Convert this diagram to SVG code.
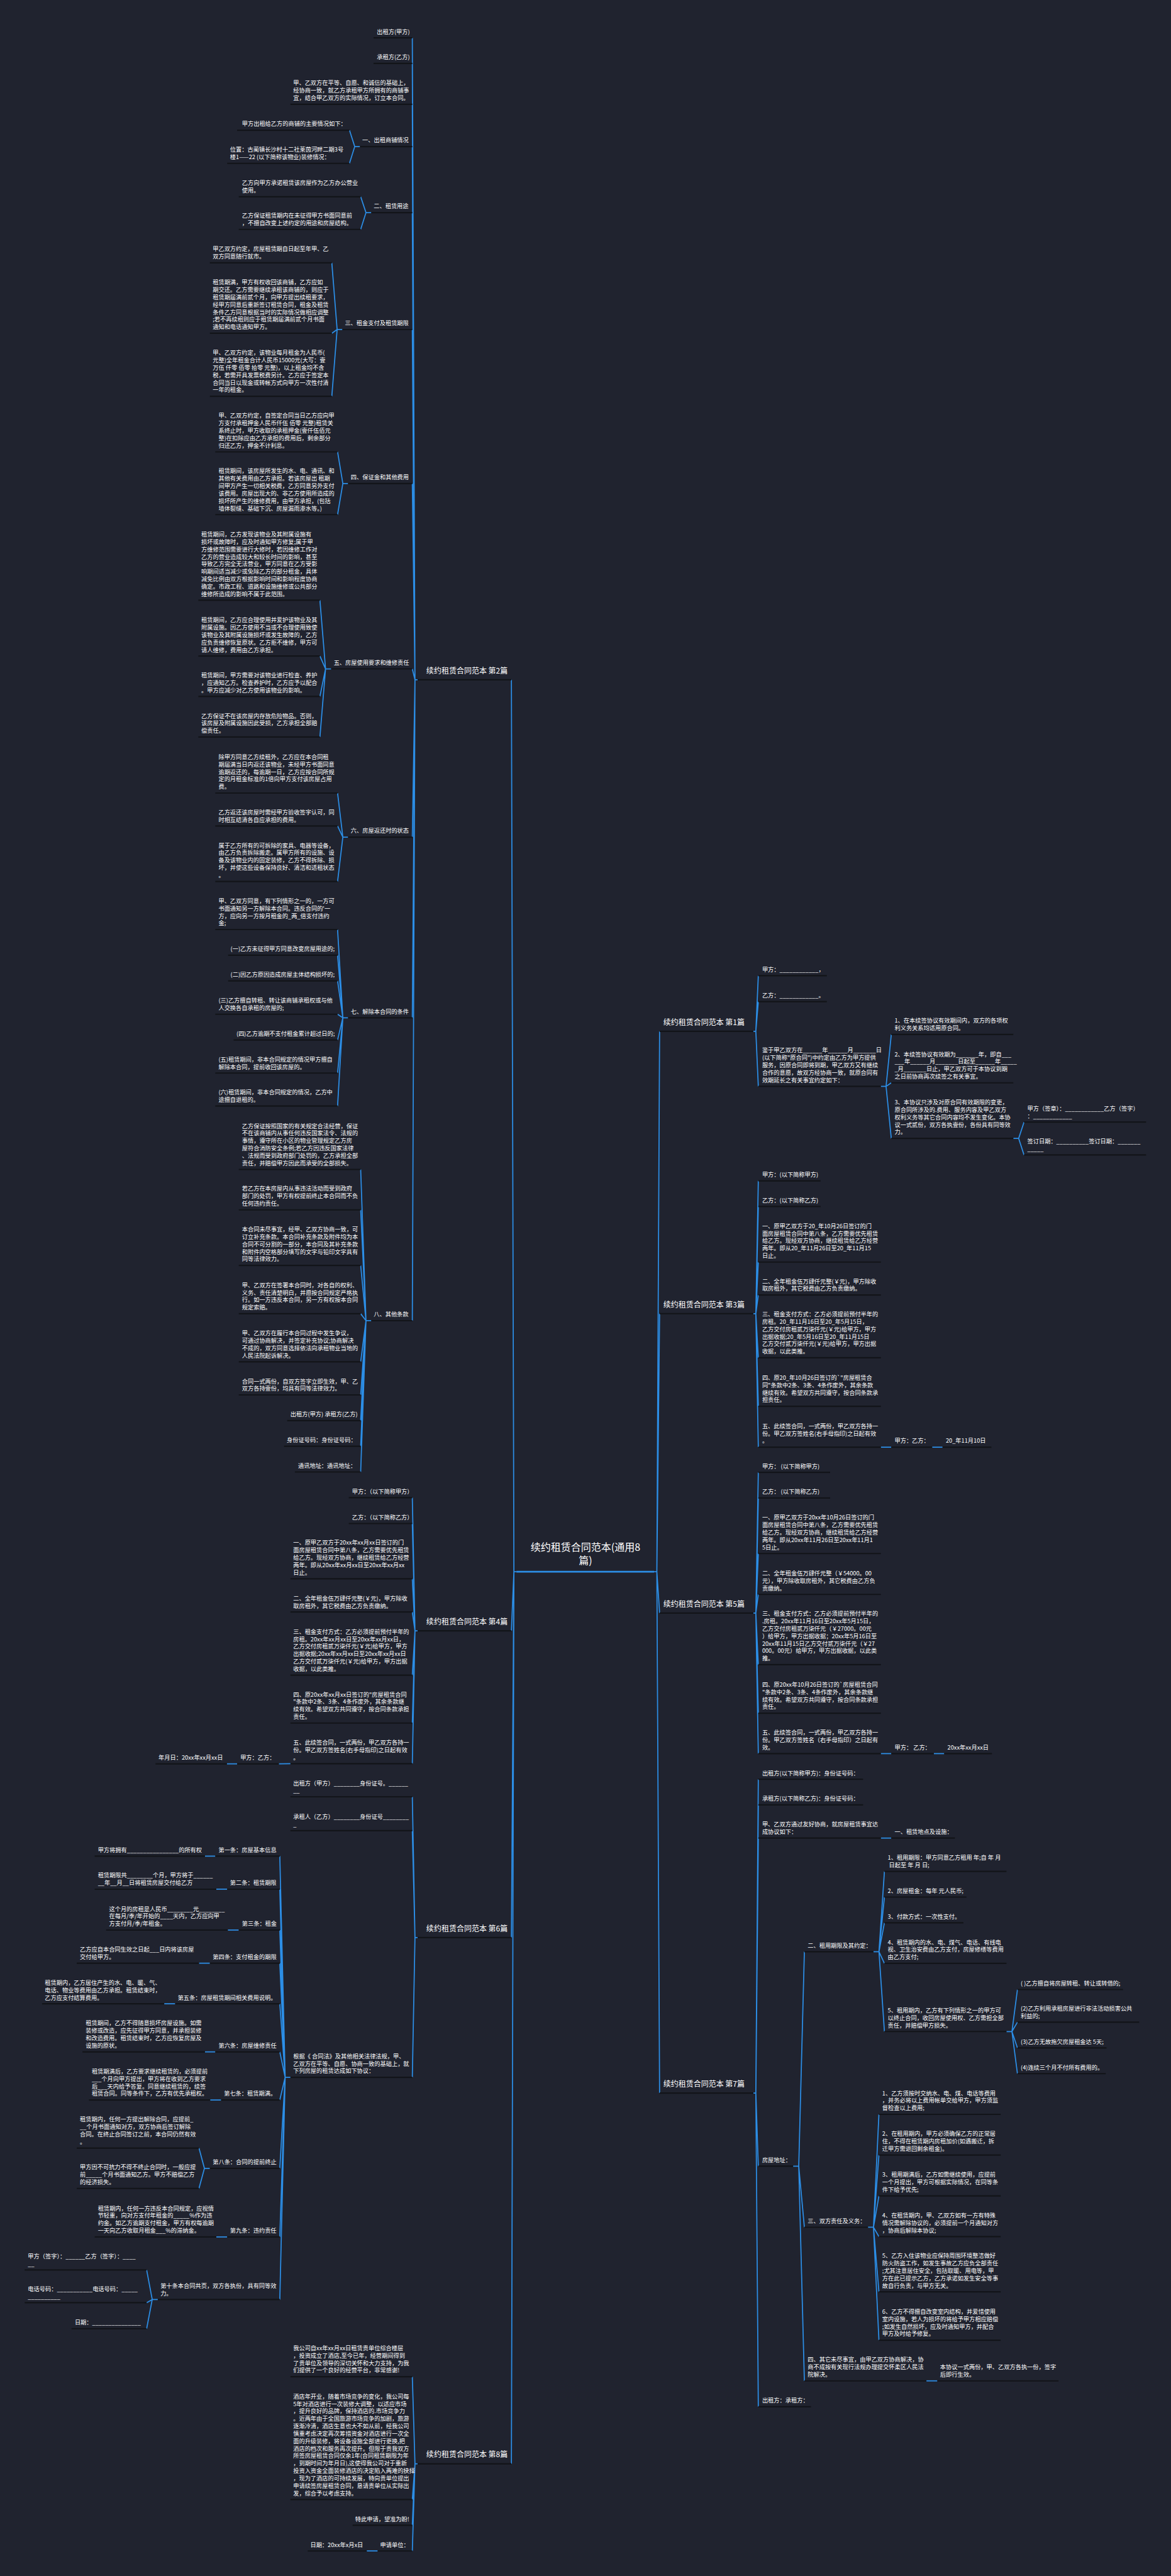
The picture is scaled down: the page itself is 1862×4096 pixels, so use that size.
<svg xmlns="http://www.w3.org/2000/svg" width="1862" height="4096" viewBox="0 0 1862 4096">
<style>
text{font-family:"Noto Sans CJK SC","Noto Sans",sans-serif;fill:#ffffff}
.t{font-size:12.7px}
.l1{font-size:16.5px}
.rt{font-size:22px}
.u{stroke:#121419;stroke-width:3}
.c{fill:none;stroke:#2c8ee6;stroke-width:2.4}
</style>
<rect width="1862" height="4096" fill="#20232f"/>
<g transform="scale(0.72734)">
<g id="connectors" class="c">
<path d="M1129 3436H1123.5L1118 1486M1129 3436H1123.5L1118 3565.3M1129 3436H1123.5L1118 4235.7M1129 3436H1123.5L1118 5386.3"/>
<path d="M1430 3436H1436L1442 2254.5M1430 3436H1436L1442 2871.8M1430 3436H1436L1442 3526.4M1430 3436H1436L1442 4575.7"/>
<path d="M913 1486H907.2L901.4 82.7M913 1486H907.2L901.4 138.8M913 1486H907.2L901.4 228M913 1486H907.2L901.4 320.4M913 1486H907.2L901.4 464.8M913 1486H907.2L901.4 720.4M913 1486H907.2L901.4 1057.1M913 1486H907.2L901.4 1462.2M913 1486H907.2L901.4 1830.1M913 1486H907.2L901.4 2225M913 1486H907.2L901.4 2887.2"/>
<path d="M787 320.4H775.5L764 284.7M787 320.4H775.5L764 357.1"/>
<path d="M811.7 464.8H800.1L788.5 430.1M811.7 464.8H800.1L788.5 501.5"/>
<path d="M748.5 720.4H737L725.4 574.5M748.5 720.4H737L725.4 728.6M748.5 720.4H737L725.4 866.3"/>
<path d="M761 1057.1H749.5L738 987.8M761 1057.1H749.5L738 1125"/>
<path d="M724 1462.2H711.7L699.4 1312.2M724 1462.2H711.7L699.4 1434.2M724 1462.2H711.7L699.4 1522.4M724 1462.2H711.7L699.4 1611.2"/>
<path d="M761 1830.1H749.5L738 1733.7M761 1830.1H749.5L738 1805.6M761 1830.1H749.5L738 1927"/>
<path d="M761 2225H749.5L738 2032.1M761 2225H749.5L738 2088.3M761 2225H749.5L738 2144.4M761 2225H749.5L738 2217.3M761 2225H749.5L738 2273.5M761 2225H749.5L738 2345.9M761 2225H749.5L738 2417.9"/>
<path d="M811.7 2887.2H800.1L788.5 2556.6M811.7 2887.2H800.1L788.5 2644.9M811.7 2887.2H800.1L788.5 2766.3M811.7 2887.2H800.1L788.5 2871.9M811.7 2887.2H800.1L788.5 2977M811.7 2887.2H800.1L788.5 3049.5M811.7 2887.2H800.1L788.5 3105.6M811.7 2887.2H800.1L788.5 3161.7M811.7 2887.2H800.1L788.5 3217.9"/>
<path d="M913 3565.3H907.2L901.4 3274M913 3565.3H907.2L901.4 3330.6M913 3565.3H907.2L901.4 3451.5M913 3565.3H907.2L901.4 3524M913 3565.3H907.2L901.4 3662.2M913 3565.3H907.2L901.4 3766.8M913 3565.3H907.2L901.4 3855.6"/>
<path d="M635 3855.6L609.6 3856M518.4 3856L496 3856"/>
<path d="M913 4235.7H907.2L901.4 3928M913 4235.7H907.2L901.4 4002M913 4235.7H907.2L901.4 4541.3"/>
<path d="M635 4541.3H623.4L611.7 4057.7M635 4541.3H623.4L611.7 4130.1M635 4541.3H623.4L611.7 4219.4M635 4541.3H623.4L611.7 4291.8M635 4541.3H623.4L611.7 4380.6M635 4541.3H623.4L611.7 4485.7M635 4541.3H623.4L611.7 4590.8M635 4541.3H623.4L611.7 4740.3M635 4541.3H623.4L611.7 4890.2M635 4541.3H623.4L611.7 5027.1"/>
<path d="M470.7 4057.7L448 4057.7M496.7 4130.1L472.8 4130.1M522 4219.4L498 4219.4M458.8 4291.8L435 4291.8M383 4380.6L359 4380.6M470.7 4485.7L448 4485.7M483.4 4590.8L459.5 4590.8M496.7 4890.2L472.8 4890.2"/>
<path d="M458.8 4740.3H446.9L435 4696M458.8 4740.3H446.9L435 4784.2"/>
<path d="M345 5027.1H332.8L320.6 4962.4M345 5027.1H332.8L320.6 5034M345 5027.1H332.8L320.6 5090.8"/>
<path d="M913 5386.3H907.2L901.4 5195.8M913 5386.3H907.2L901.4 5464.3M913 5386.3H907.2L901.4 5520.6M913 5386.3H907.2L901.4 5576.8M825.7 5576.8L801.8 5576.8"/>
<path d="M1647 2254.5H1652.4L1657.8 2133M1647 2254.5H1652.4L1657.8 2189.7M1647 2254.5H1652.4L1657.8 2374.9"/>
<path d="M1925.7 2374.9H1937.1L1948.5 2261.6M1925.7 2374.9H1937.1L1948.5 2367.2M1925.7 2374.9H1937.1L1948.5 2488.7"/>
<path d="M2215.3 2488.7H2227L2238.7 2453M2215.3 2488.7H2227L2238.7 2524.9"/>
<path d="M1647 2871.8H1652.4L1657.8 2581.5M1647 2871.8H1652.4L1657.8 2637.6M1647 2871.8H1652.4L1657.8 2759M1647 2871.8H1652.4L1657.8 2831M1647 2871.8H1652.4L1657.8 2968.3M1647 2871.8H1652.4L1657.8 3074.4M1647 2871.8H1652.4L1657.8 3163.7"/>
<path d="M1925.7 3163.7L1948.5 3163.7M2037.9 3163.7L2060.6 3163.7"/>
<path d="M1647 3526.4H1652.4L1657.8 3218.8M1647 3526.4H1652.4L1657.8 3274.9M1647 3526.4H1652.4L1657.8 3396.3M1647 3526.4H1652.4L1657.8 3485.6M1647 3526.4H1652.4L1657.8 3639.2M1647 3526.4H1652.4L1657.8 3745.3M1647 3526.4H1652.4L1657.8 3833.6"/>
<path d="M1925.7 3833.6L1948.5 3833.6M2041.5 3833.6L2064.2 3833.6"/>
<path d="M1647 4575.7H1652.4L1657.8 3889.7M1647 4575.7H1652.4L1657.8 3945.8M1647 4575.7H1652.4L1657.8 4018.3M1647 4575.7H1652.4L1657.8 4735.7M1647 4575.7H1652.4L1657.8 5261.4"/>
<path d="M1925.7 4018.3L1948.5 4018.3"/>
<path d="M1733.9 4735.7H1746.2L1758.5 4266.7M1733.9 4735.7H1746.2L1758.5 4869.1M1733.9 4735.7H1746.2L1758.5 5204.9"/>
<path d="M1909.6 4266.7H1921.6L1933.5 4091.2M1909.6 4266.7H1921.6L1933.5 4147.3M1909.6 4266.7H1921.6L1933.5 4203.5M1909.6 4266.7H1921.6L1933.5 4292.2M1909.6 4266.7H1921.6L1933.5 4441.2"/>
<path d="M2200.3 4441.2H2212.3L2224.3 4349.4M2200.3 4441.2H2212.3L2224.3 4420.8M2200.3 4441.2H2212.3L2224.3 4477M2200.3 4441.2H2212.3L2224.3 4533.3"/>
<path d="M1897.6 4869.1H1909.6L1921.5 4622.3M1897.6 4869.1H1909.6L1921.5 4711.2M1897.6 4869.1H1909.6L1921.5 4800.6M1897.6 4869.1H1909.6L1921.5 4889.5M1897.6 4869.1H1909.6L1921.5 5010.3M1897.6 4869.1H1909.6L1921.5 5116"/>
<path d="M2025.3 5204.9L2049.2 5204.9"/>
</g>

<g id="root"><line x1="1129" y1="3436" x2="1430" y2="3436" stroke="#2c8ee6" stroke-width="3.5"/><text class="rt" x="1280" y="3390" text-anchor="middle">续约租赁合同范本(通用8<tspan x="1280" dy="30">篇)</tspan></text></g>

<g id="p2"><line class="u" x1="913" y1="1486" x2="1118" y2="1486"/><text class="l1" x="932" y="1472">续约租赁合同范本 第2篇</text></g>
<g id="a1"><line class="u" x1="816.6" y1="82.7" x2="901.4" y2="82.7"/><text class="t" x="824" y="73.6">出租方(甲方)</text></g>
<g id="a2"><line class="u" x1="816.6" y1="138.8" x2="901.4" y2="138.8"/><text class="t" x="824" y="129.7">承租方(乙方)</text></g>
<g id="a3"><line class="u" x1="635" y1="228" x2="901.4" y2="228"/><text class="t" x="641" y="186.3">甲、乙双方在平等、自愿、和诚信的基础上，<tspan x="641" dy="16.3">经协商一致，就乙方承租甲方所拥有的商铺事</tspan><tspan x="641" dy="16.3">宜，结合甲乙双方的实际情况，订立本合同。</tspan></text></g>
<g id="a4"><line class="u" x1="787" y1="320.4" x2="901.4" y2="320.4"/><text class="t" x="792" y="311.3">一、出租商铺情况</text></g>
<g id="a4a"><line class="u" x1="518.4" y1="284.7" x2="764" y2="284.7"/><text class="t" x="529" y="275.6">甲方出租给乙方的商铺的主要情况如下：</text></g>
<g id="a4b"><line class="u" x1="496.7" y1="357.1" x2="764" y2="357.1"/><text class="t" x="503" y="331.7">位置：古蔺镇长沙村十二社莱茵河畔二期3号<tspan x="503" dy="16.3">楼1——22 (以下简称该物业)装修情况：</tspan></text></g>
<g id="a5"><line class="u" x1="811.7" y1="464.8" x2="901.4" y2="464.8"/><text class="t" x="817" y="455.7">二、租赁用途</text></g>
<g id="a5a"><line class="u" x1="522" y1="430.1" x2="788.5" y2="430.1"/><text class="t" x="529" y="404.7">乙方向甲方承诺租赁该房屋作为乙方办公营业<tspan x="529" dy="16.3">使用。</tspan></text></g>
<g id="a5b"><line class="u" x1="522" y1="501.5" x2="788.5" y2="501.5"/><text class="t" x="529" y="476.1"> 乙方保证租赁期内在未征得甲方书面同意前<tspan x="529" dy="16.3">，不擅自改变上述约定的用途和房屋结构。</tspan></text></g>
<g id="a6"><line class="u" x1="748.5" y1="720.4" x2="901.4" y2="720.4"/><text class="t" x="754" y="711.3">三、租金支付及租赁期限</text></g>
<g id="a6a"><line class="u" x1="458.8" y1="574.5" x2="725.4" y2="574.5"/><text class="t" x="465" y="549.1">甲乙双方约定，房屋租赁期自日起至年甲、乙<tspan x="465" dy="16.3">双方同意随行就市。</tspan></text></g>
<g id="a6b"><line class="u" x1="458.8" y1="728.6" x2="725.4" y2="728.6"/><text class="t" x="465" y="621.7"> 租赁期满，甲方有权收回该商铺，乙方应如<tspan x="465" dy="16.3">期交还。乙方需要继续承租该商铺的，则应于</tspan><tspan x="465" dy="16.3">租赁期届满前贰个月，向甲方提出续租要求，</tspan><tspan x="465" dy="16.3">经甲方同意后重新签订租赁合同，租金及租赁</tspan><tspan x="465" dy="16.3">条件乙方同意根据当时的实际情况做相应调整</tspan><tspan x="465" dy="16.3">;若不再续租则应于租赁期届满前贰个月书面</tspan><tspan x="465" dy="16.3">通知和电话通知甲方。</tspan></text></g>
<g id="a6c"><line class="u" x1="458.8" y1="866.3" x2="725.4" y2="866.3"/><text class="t" x="465" y="775.7"> 甲、乙双方约定，该物业每月租金为人民币(<tspan x="465" dy="16.3">元整)全年租金合计人民币15000元(大写：壹</tspan><tspan x="465" dy="16.3">万伍 仟零 佰零 拾零 元整)，以上租金均不含</tspan><tspan x="465" dy="16.3">税，若需开具发票税费另计。乙方应于签定本</tspan><tspan x="465" dy="16.3">合同当日以现金或转帐方式向甲方一次性付清</tspan><tspan x="465" dy="16.3">一年的租金。</tspan></text></g>
<g id="a7"><line class="u" x1="761" y1="1057.1" x2="901.4" y2="1057.1"/><text class="t" x="767" y="1048">四、保证金和其他费用</text></g>
<g id="a7a"><line class="u" x1="470.7" y1="987.8" x2="738" y2="987.8"/><text class="t" x="477.7" y="913.5">甲、乙双方约定，自签定合同当日乙方应向甲<tspan x="477.7" dy="16.3">方支付承租押金人民币仟伍 佰零 元整)租赁关</tspan><tspan x="477.7" dy="16.3">系终止时，甲方收取的承租押金(壹仟伍佰元</tspan><tspan x="477.7" dy="16.3">整)在扣除应由乙方承担的费用后，剩余部分</tspan><tspan x="477.7" dy="16.3">归还乙方，押金不计利息。</tspan></text></g>
<g id="a7b"><line class="u" x1="470.7" y1="1125" x2="738" y2="1125"/><text class="t" x="477.7" y="1034.4">租赁期间，该房屋所发生的水、电、通讯、和<tspan x="477.7" dy="16.3">其他有关费用由乙方承担。若该房屋出 租期</tspan><tspan x="477.7" dy="16.3">间甲方产生一切相关税费，乙方同意另外支付</tspan><tspan x="477.7" dy="16.3">该费用。房屋出现大的、非乙方使用所造成的</tspan><tspan x="477.7" dy="16.3">损坏所产生的维修费用，由甲方承担，(包括</tspan><tspan x="477.7" dy="16.3">墙体裂缝、基础下沉、房屋漏雨渗水等。)</tspan></text></g>
<g id="a8"><line class="u" x1="724" y1="1462.2" x2="901.4" y2="1462.2"/><text class="t" x="729.6" y="1453.1">五、房屋使用要求和维修责任</text></g>
<g id="a8a"><line class="u" x1="433.6" y1="1312.2" x2="699.4" y2="1312.2"/><text class="t" x="440" y="1172.7"> 租赁期间，乙方发现该物业及其附属设施有<tspan x="440" dy="16.3">损坏或故障时，应及时通知甲方修复;属于甲</tspan><tspan x="440" dy="16.3">方维修范围需要进行大修时，若因维修工作对</tspan><tspan x="440" dy="16.3">乙方的营业造成较大和较长时间的影响，甚至</tspan><tspan x="440" dy="16.3">导致乙方完全无法营业，甲方同意在乙方受影</tspan><tspan x="440" dy="16.3">响期间适当减少或免除乙方的部分租金，具体</tspan><tspan x="440" dy="16.3">减免比例由双方根据影响时间和影响程度协商</tspan><tspan x="440" dy="16.3">确定。市政工程、道路和设施维修或公共部分</tspan><tspan x="440" dy="16.3">维修所造成的影响不属于此范围。</tspan></text></g>
<g id="a8b"><line class="u" x1="433.6" y1="1434.2" x2="699.4" y2="1434.2"/><text class="t" x="440" y="1359.9">租赁期间，乙方应合理使用并爱护该物业及其<tspan x="440" dy="16.3">附属设施。因乙方使用不当或不合理使用致使</tspan><tspan x="440" dy="16.3">该物业及其附属设施损坏或发生故障的，乙方</tspan><tspan x="440" dy="16.3">应负责维修恢复原状。乙方拒不维修，甲方可</tspan><tspan x="440" dy="16.3">请人维修，费用由乙方承担。</tspan></text></g>
<g id="a8c"><line class="u" x1="433.6" y1="1522.4" x2="699.4" y2="1522.4"/><text class="t" x="440" y="1480.7">租赁期间，甲方需要对该物业进行检查、养护<tspan x="440" dy="16.3">，应通知乙方。检查养护时，乙方应予以配合</tspan><tspan x="440" dy="16.3">。甲方应减少对乙方使用该物业的影响。</tspan></text></g>
<g id="a8d"><line class="u" x1="433.6" y1="1611.2" x2="699.4" y2="1611.2"/><text class="t" x="440" y="1569.5">乙方保证不在该房屋内存放危险物品。否则，<tspan x="440" dy="16.3">该房屋及附属设施因此受损，乙方承担全部赔</tspan><tspan x="440" dy="16.3">偿责任。</tspan></text></g>
<g id="a9"><line class="u" x1="761" y1="1830.1" x2="901.4" y2="1830.1"/><text class="t" x="767" y="1821">六、房屋返还时的状态</text></g>
<g id="a9a"><line class="u" x1="470.7" y1="1733.7" x2="738" y2="1733.7"/><text class="t" x="477.7" y="1659.4"> 除甲方同意乙方续租外，乙方应在本合同租<tspan x="477.7" dy="16.3">期届满当日内返还该物业，未经甲方书面同意</tspan><tspan x="477.7" dy="16.3">逾期返还的，每逾期一日，乙方应按合同所规</tspan><tspan x="477.7" dy="16.3">定的月租金标准的1倍向甲方支付该房屋占用</tspan><tspan x="477.7" dy="16.3">费。</tspan></text></g>
<g id="a9b"><line class="u" x1="470.7" y1="1805.6" x2="738" y2="1805.6"/><text class="t" x="477.7" y="1780.2">乙方返还该房屋时需经甲方验收签字认可，同<tspan x="477.7" dy="16.3">时相互结清各自应承担的费用。</tspan></text></g>
<g id="a9c"><line class="u" x1="470.7" y1="1927" x2="738" y2="1927"/><text class="t" x="477.7" y="1852.7">属于乙方所有的可拆除的家具、电器等设备，<tspan x="477.7" dy="16.3">由乙方负责拆除搬走。属甲方所有的设施、设</tspan><tspan x="477.7" dy="16.3">备及该物业内的固定装修，乙方不得拆除、损</tspan><tspan x="477.7" dy="16.3">坏，并使这些设备保持良好、清洁和适租状态</tspan><tspan x="477.7" dy="16.3">。</tspan></text></g>
<g id="a10"><line class="u" x1="761" y1="2225" x2="901.4" y2="2225"/><text class="t" x="767" y="2215.9">七、解除本合同的条件</text></g>
<g id="a10a"><line class="u" x1="470.7" y1="2032.1" x2="738" y2="2032.1"/><text class="t" x="477.7" y="1974.1">甲、乙双方同意，有下列情形之一的，一方可<tspan x="477.7" dy="16.3">书面通知另一方解除本合同。违反合同的'一</tspan><tspan x="477.7" dy="16.3">方，应向另一方按月租金的_两_倍支付违约</tspan><tspan x="477.7" dy="16.3">金;</tspan></text></g>
<g id="a10b"><line class="u" x1="498.8" y1="2088.3" x2="738" y2="2088.3"/><text class="t" x="504" y="2079.2">(一)乙方未征得甲方同意改变房屋用途的;</text></g>
<g id="a10c"><line class="u" x1="498.8" y1="2144.4" x2="738" y2="2144.4"/><text class="t" x="504" y="2135.3">(二)因乙方原因造成房屋主体结构损坏的;</text></g>
<g id="a10d"><line class="u" x1="470.7" y1="2217.3" x2="738" y2="2217.3"/><text class="t" x="477.7" y="2191.9">(三)乙方擅自转租、转让该商铺承租权或与他<tspan x="477.7" dy="16.3">人交换各自承租的房屋的;</tspan></text></g>
<g id="a10e"><line class="u" x1="510.7" y1="2273.5" x2="738" y2="2273.5"/><text class="t" x="517" y="2264.4">(四)乙方逾期不支付租金累计超过日的;</text></g>
<g id="a10f"><line class="u" x1="470.7" y1="2345.9" x2="738" y2="2345.9"/><text class="t" x="477.7" y="2320.5">(五)租赁期间，非本合同规定的情况甲方擅自<tspan x="477.7" dy="16.3">解除本合同，提前收回该房屋的。</tspan></text></g>
<g id="a10g"><line class="u" x1="470.7" y1="2417.9" x2="738" y2="2417.9"/><text class="t" x="477.7" y="2392.5">(六)租赁期间，非本合同规定的情况，乙方中<tspan x="477.7" dy="16.3">途擅自退租的。</tspan></text></g>
<g id="a11"><line class="u" x1="811.7" y1="2887.2" x2="901.4" y2="2887.2"/><text class="t" x="817" y="2878.1">八、其他条款</text></g>
<g id="a11a"><line class="u" x1="522" y1="2556.6" x2="788.5" y2="2556.6"/><text class="t" x="529" y="2466">乙方保证按照国家的有关规定合法经营，保证<tspan x="529" dy="16.3">不在该商铺内从事任何违反国家法令、法规的</tspan><tspan x="529" dy="16.3">事情，遵守所在小区的物业管理规定乙方房</tspan><tspan x="529" dy="16.3">屋符合消防安全条例;若乙方因违反国家法律</tspan><tspan x="529" dy="16.3">、法规而受到政府部门处罚的，乙方承担全部</tspan><tspan x="529" dy="16.3">责任，并赔偿甲方因此而承受的全部损失。</tspan></text></g>
<g id="a11b"><line class="u" x1="522" y1="2644.9" x2="788.5" y2="2644.9"/><text class="t" x="529" y="2603.2"> 若乙方在本房屋内从事违法活动而受到政府<tspan x="529" dy="16.3">部门的处罚，甲方有权提前终止本合同而不负</tspan><tspan x="529" dy="16.3">任何违约责任。</tspan></text></g>
<g id="a11c"><line class="u" x1="522" y1="2766.3" x2="788.5" y2="2766.3"/><text class="t" x="529" y="2692">本合同未尽事宜，经甲、乙双方协商一致，可<tspan x="529" dy="16.3">订立补充条款。本合同补充条款及附件均为本</tspan><tspan x="529" dy="16.3">合同不可分割的一部分，本合同及其补充条款</tspan><tspan x="529" dy="16.3">和附件内空格部分填写的文字与铅印文字具有</tspan><tspan x="529" dy="16.3">同等法律效力。</tspan></text></g>
<g id="a11d"><line class="u" x1="522" y1="2871.9" x2="788.5" y2="2871.9"/><text class="t" x="529" y="2813.9">甲、乙双方在签署本合同时，对各自的权利、<tspan x="529" dy="16.3">义务、责任清楚明白，并愿按合同规定严格执</tspan><tspan x="529" dy="16.3">行。如一方违反本合同，另一方有权按本合同</tspan><tspan x="529" dy="16.3">规定索赔。</tspan></text></g>
<g id="a11e"><line class="u" x1="522" y1="2977" x2="788.5" y2="2977"/><text class="t" x="529" y="2919"> 甲、乙双方在履行本合同过程中发生争议，<tspan x="529" dy="16.3">可通过协商解决，并签定补充协议;协商解决</tspan><tspan x="529" dy="16.3">不成的，双方同意选择依法向承租物业当地的</tspan><tspan x="529" dy="16.3">人民法院起诉解决。</tspan></text></g>
<g id="a11f"><line class="u" x1="522" y1="3049.5" x2="788.5" y2="3049.5"/><text class="t" x="529" y="3024.1">合同一式两份，自双方签字立即生效，甲、乙<tspan x="529" dy="16.3">双方各持壹份，均具有同等法律效力。</tspan></text></g>
<g id="a11g"><line class="u" x1="627.9" y1="3105.6" x2="788.5" y2="3105.6"/><text class="t" x="635" y="3096.5">出租方(甲方) 承租方(乙方)</text></g>
<g id="a11h"><line class="u" x1="621" y1="3161.7" x2="788.5" y2="3161.7"/><text class="t" x="627" y="3152.6">身份证号码：身份证号码：</text></g>
<g id="a11i"><line class="u" x1="644.7" y1="3217.9" x2="788.5" y2="3217.9"/><text class="t" x="651.7" y="3208.8">通讯地址：通讯地址：</text></g>

<g id="p4"><line class="u" x1="913" y1="3565.3" x2="1118" y2="3565.3"/><text class="l1" x="932" y="3551.3">续约租赁合同范本 第4篇</text></g>
<g id="b1"><line class="u" x1="762.5" y1="3274" x2="901.4" y2="3274"/><text class="t" x="769.6" y="3264.9">甲方：（以下简称甲方）</text></g>
<g id="b2"><line class="u" x1="762.5" y1="3330.6" x2="901.4" y2="3330.6"/><text class="t" x="769.6" y="3321.5">乙方：（以下简称乙方）</text></g>
<g id="b3"><line class="u" x1="635" y1="3451.5" x2="901.4" y2="3451.5"/><text class="t" x="641" y="3377.2">一、原甲乙双方于20xx年xx月xx日签订的门<tspan x="641" dy="16.3">面房屋租赁合同中第八条，乙方需要优先租赁</tspan><tspan x="641" dy="16.3">给乙方。现经双方协商，继续租赁给乙方经营</tspan><tspan x="641" dy="16.3">两年。即从20xx年xx月xx日至20xx年xx月xx</tspan><tspan x="641" dy="16.3">日止。</tspan></text></g>
<g id="b4"><line class="u" x1="635" y1="3524" x2="901.4" y2="3524"/><text class="t" x="641" y="3498.6">二、全年租金伍万肆仟元整(￥元)，甲方除收<tspan x="641" dy="16.3">取房租外，其它税费由乙方负责缴纳。</tspan></text></g>
<g id="b5"><line class="u" x1="635" y1="3662.2" x2="901.4" y2="3662.2"/><text class="t" x="641" y="3571.6">三、租金支付方式：乙方必须提前预付半年的<tspan x="641" dy="16.3">房租。20xx年xx月xx日至20xx年xx月xx日，</tspan><tspan x="641" dy="16.3">乙方交付房租贰万柒仟元(￥元)给甲方，甲方</tspan><tspan x="641" dy="16.3">出据收据;20xx年xx月xx日至20xx年xx月xx日</tspan><tspan x="641" dy="16.3">乙方交付贰万柒仟元(￥元)给甲方，甲方出据</tspan><tspan x="641" dy="16.3">收据，以此类推。</tspan></text></g>
<g id="b6"><line class="u" x1="635" y1="3766.8" x2="901.4" y2="3766.8"/><text class="t" x="641" y="3708.8">四、原20xx年xx月xx日签订的"房屋租赁合同<tspan x="641" dy="16.3">"条款中2条、3条、4条作废外，其余条款继</tspan><tspan x="641" dy="16.3">续有效。希望双方共同遵守，按合同条款承担</tspan><tspan x="641" dy="16.3">责任。</tspan></text></g>
<g id="b7"><line class="u" x1="635" y1="3855.6" x2="901.4" y2="3855.6"/><text class="t" x="641" y="3813.9">五、此续签合同，一式两份，甲乙双方各持一<tspan x="641" dy="16.3">份。甲乙双方签姓名(右手母指印)之日起有效</tspan><tspan x="641" dy="16.3">。</tspan></text></g>
<g id="b7a"><line class="u" x1="518.4" y1="3856" x2="609.6" y2="3856"/><text class="t" x="525.4" y="3846.9">甲方：乙方：</text></g>
<g id="b7a1"><line class="u" x1="340" y1="3856" x2="496" y2="3856"/><text class="t" x="346.6" y="3846.9">年月日：20xx年xx月xx日</text></g>

<g id="p6"><line class="u" x1="913" y1="4235.7" x2="1118" y2="4235.7"/><text class="l1" x="932" y="4221.7">续约租赁合同范本 第6篇</text></g>
<g id="c1"><line class="u" x1="635" y1="3928" x2="901.4" y2="3928"/><text class="t" x="641" y="3902.6">出租方（甲方）________身份证号。______<tspan x="641" dy="16.3">__</tspan></text></g>
<g id="c2"><line class="u" x1="635" y1="4002" x2="901.4" y2="4002"/><text class="t" x="641" y="3976.6">承租人（乙方）________身份证号________<tspan x="641" dy="16.3">_</tspan></text></g>
<g id="c3"><line class="u" x1="635" y1="4541.3" x2="901.4" y2="4541.3"/><text class="t" x="641" y="4499.6">根据《 合同法》及其他相关法律法规，甲、<tspan x="641" dy="16.3">乙双方在平等、自愿、协商一致的基础上，就</tspan><tspan x="641" dy="16.3">下列房屋的租赁达成如下协议：</tspan></text></g>
<g id="c3a"><line class="u" x1="470.7" y1="4057.7" x2="611.7" y2="4057.7"/><text class="t" x="477.7" y="4048.6">第一条：房屋基本信息</text></g>
<g id="c3a1"><line class="u" x1="207" y1="4057.7" x2="448" y2="4057.7"/><text class="t" x="214" y="4048.6">甲方将拥有________________的所有权</text></g>
<g id="c3b"><line class="u" x1="496.7" y1="4130.1" x2="611.7" y2="4130.1"/><text class="t" x="503" y="4121">第二条：租赁期限</text></g>
<g id="c3b1"><line class="u" x1="207" y1="4130.1" x2="472.8" y2="4130.1"/><text class="t" x="214" y="4104.7">租赁期限共________个月，甲方将于______<tspan x="214" dy="16.3">__年__月__日将租赁房屋交付给乙方</tspan></text></g>
<g id="c3c"><line class="u" x1="522" y1="4219.4" x2="611.7" y2="4219.4"/><text class="t" x="529" y="4210.3">第三条：租金</text></g>
<g id="c3c1"><line class="u" x1="232" y1="4219.4" x2="498" y2="4219.4"/><text class="t" x="238.5" y="4177.7">这个月的房租是人民币________元________<tspan x="238.5" dy="16.3">在每月/季/年开始的____天内，乙方应向甲</tspan><tspan x="238.5" dy="16.3">方支付月/季/年租金。</tspan></text></g>
<g id="c3d"><line class="u" x1="458.8" y1="4291.8" x2="611.7" y2="4291.8"/><text class="t" x="465" y="4282.7">第四条：支付租金的期限</text></g>
<g id="c3d1"><line class="u" x1="167.7" y1="4291.8" x2="435" y2="4291.8"/><text class="t" x="174.7" y="4266.4">乙方应自本合同生效之日起___日内将该房屋<tspan x="174.7" dy="16.3">交付给甲方。</tspan></text></g>
<g id="c3e"><line class="u" x1="383" y1="4380.6" x2="611.7" y2="4380.6"/><text class="t" x="388.6" y="4371.5">第五条：房屋租赁期间相关费用说明。</text></g>
<g id="c3e1"><line class="u" x1="92" y1="4380.6" x2="359" y2="4380.6"/><text class="t" x="98" y="4338.9">租赁期内，乙方居住产生的水、电、暖、气、<tspan x="98" dy="16.3">电话、物业等费用由乙方承担。租赁结束时，</tspan><tspan x="98" dy="16.3">乙方应支付结算费用。</tspan></text></g>
<g id="c3f"><line class="u" x1="470.7" y1="4485.7" x2="611.7" y2="4485.7"/><text class="t" x="477.7" y="4476.6">第六条：房屋维修责任</text></g>
<g id="c3f1"><line class="u" x1="180.3" y1="4485.7" x2="448" y2="4485.7"/><text class="t" x="187.3" y="4427.7">租赁期间，乙方不得随意损坏房屋设施。如需<tspan x="187.3" dy="16.3">装修或改造，应先征得甲方同意，并承担装修</tspan><tspan x="187.3" dy="16.3">和改造费用。租赁结束时，乙方应恢复房屋及</tspan><tspan x="187.3" dy="16.3">设施的原状。</tspan></text></g>
<g id="c3g"><line class="u" x1="483.4" y1="4590.8" x2="611.7" y2="4590.8"/><text class="t" x="489.7" y="4581.7">第七条：租赁期满。</text></g>
<g id="c3g1"><line class="u" x1="194.3" y1="4590.8" x2="459.5" y2="4590.8"/><text class="t" x="200.6" y="4532.8">租赁期满后，乙方要求继续租赁的，必须提前<tspan x="200.6" dy="16.3">___个月向甲方提出，甲方将在收到乙方要求</tspan><tspan x="200.6" dy="16.3">后___天内给予答复。同意继续租赁的，续签</tspan><tspan x="200.6" dy="16.3">租赁合同。同等条件下，乙方有优先承租权。</tspan></text></g>
<g id="c3h"><line class="u" x1="458.8" y1="4740.3" x2="611.7" y2="4740.3"/><text class="t" x="465" y="4731.2">第八条：合同的提前终止</text></g>
<g id="c3h1"><line class="u" x1="167.7" y1="4696" x2="435" y2="4696"/><text class="t" x="174.7" y="4638">租赁期内，任何一方提出解除合同，应提前_<tspan x="174.7" dy="16.3">__个月书面通知对方，双方协商后签订解除</tspan><tspan x="174.7" dy="16.3">合同。在终止合同签订之前，本合同仍然有效</tspan><tspan x="174.7" dy="16.3">。</tspan></text></g>
<g id="c3h2"><line class="u" x1="167.7" y1="4784.2" x2="435" y2="4784.2"/><text class="t" x="174.7" y="4742.5">甲方因不可抗力不得不终止合同时，一般应提<tspan x="174.7" dy="16.3">前_____个月书面通知乙方。甲方不赔偿乙方</tspan><tspan x="174.7" dy="16.3">的经济损失。</tspan></text></g>
<g id="c3i"><line class="u" x1="496.7" y1="4890.2" x2="611.7" y2="4890.2"/><text class="t" x="503" y="4881.1">第九条：违约责任</text></g>
<g id="c3i1"><line class="u" x1="207" y1="4890.2" x2="472.8" y2="4890.2"/><text class="t" x="214" y="4832.2">租赁期内，任何一方违反本合同规定，应视情<tspan x="214" dy="16.3">节轻重，向对方支付年租金的_____%作为违</tspan><tspan x="214" dy="16.3">约金。如乙方逾期支付租金，甲方有权每逾期</tspan><tspan x="214" dy="16.3">一天向乙方收取月租金___%的滞纳金。</tspan></text></g>
<g id="c3j"><line class="u" x1="345" y1="5027.1" x2="611.7" y2="5027.1"/><text class="t" x="350.8" y="5001.7">第十条本合同共页，双方各执份，具有同等效<tspan x="350.8" dy="16.3">力。</tspan></text></g>
<g id="c3j1"><line class="u" x1="54" y1="4962.4" x2="320.6" y2="4962.4"/><text class="t" x="61" y="4937">甲方（签字）：______乙方（签字）：____<tspan x="61" dy="16.3">__</tspan></text></g>
<g id="c3j2"><line class="u" x1="54" y1="5034" x2="320.6" y2="5034"/><text class="t" x="61" y="5008.6">电话号码：___________电话号码：_____<tspan x="61" dy="16.3">__________</tspan></text></g>
<g id="c3j3"><line class="u" x1="156.4" y1="5090.8" x2="320.6" y2="5090.8"/><text class="t" x="163.5" y="5081.7">日期：_______________</text></g>

<g id="p8"><line class="u" x1="913" y1="5386.3" x2="1118" y2="5386.3"/><text class="l1" x="932" y="5372.3">续约租赁合同范本 第8篇</text></g>
<g id="d1"><line class="u" x1="635" y1="5195.8" x2="901.4" y2="5195.8"/><text class="t" x="641" y="5137.8">我公司自xx年xx月xx日租赁贵单位综合楼层<tspan x="641" dy="16.3">，投资成立了酒店,至今已年，经营期间得到</tspan><tspan x="641" dy="16.3">了贵单位及领导的深切关怀和大力支持，为我</tspan><tspan x="641" dy="16.3">们提供了一个良好的经营平台，非常感谢!</tspan></text></g>
<g id="d2"><line class="u" x1="635" y1="5464.3" x2="901.4" y2="5464.3"/><text class="t" x="641" y="5243.3">酒店年开业，随着市场竞争的变化，我公司每<tspan x="641" dy="16.3">5年对酒店进行一次装修大调整，以适应市场</tspan><tspan x="641" dy="16.3">，提升良好的品牌，保持酒店的.市场竞争力</tspan><tspan x="641" dy="16.3">。近两年由于全国旅游市场竞争的加剧，旅游</tspan><tspan x="641" dy="16.3">逐渐冷清，酒店生意也大不如从前，经我公司</tspan><tspan x="641" dy="16.3">慎重考虑决定再次筹措资金对酒店进行一次全</tspan><tspan x="641" dy="16.3">面的升级装修，将设备设施全部进行更换,把</tspan><tspan x="641" dy="16.3">酒店的档次和服务再次提升。但限于贵我双方</tspan><tspan x="641" dy="16.3">所签房屋租赁合同仅余1年(合同租赁期限为年</tspan><tspan x="641" dy="16.3">，到期时间为年月日),这使得我公司对于重新</tspan><tspan x="641" dy="16.3">投资入资金全面装修酒店的决定陷入两难的抉择</tspan><tspan x="641" dy="16.3">，现为了酒店的可持续发展，特向贵单位提出</tspan><tspan x="641" dy="16.3">申请续签房屋租赁合同，恳请贵单位从实际出</tspan><tspan x="641" dy="16.3">发，综合予以考虑支持。</tspan></text></g>
<g id="d3"><line class="u" x1="771" y1="5520.6" x2="901.4" y2="5520.6"/><text class="t" x="776.6" y="5511.5">特此申请，望准为盼!</text></g>
<g id="d4"><line class="u" x1="825.7" y1="5576.8" x2="901.4" y2="5576.8"/><text class="t" x="831.3" y="5567.7">申请单位：</text></g>
<g id="d4a"><line class="u" x1="672.8" y1="5576.8" x2="801.8" y2="5576.8"/><text class="t" x="678.4" y="5567.7">日期：20xx年x月x日</text></g>

<g id="p1"><line class="u" x1="1442" y1="2254.5" x2="1647" y2="2254.5"/><text class="l1" x="1450" y="2240.5">续约租赁合同范本 第1篇</text></g>
<g id="e1"><line class="u" x1="1657.8" y1="2133" x2="1807.6" y2="2133"/><text class="t" x="1666.2" y="2123.9">甲方：____________，</text></g>
<g id="e2"><line class="u" x1="1657.8" y1="2189.7" x2="1807.6" y2="2189.7"/><text class="t" x="1666.2" y="2180.6">乙方：____________。</text></g>
<g id="e3"><line class="u" x1="1657.8" y1="2374.9" x2="1925.7" y2="2374.9"/><text class="t" x="1666.2" y="2300.6">鉴于甲乙双方在______年______月_______日<tspan x="1666.2" dy="16.3">(以下简称"原合同")中约定由乙方为甲方提供</tspan><tspan x="1666.2" dy="16.3">服务，因原合同即将到期，甲乙双方又有继续</tspan><tspan x="1666.2" dy="16.3">合作的意愿，故双方经协商一致，就原合同有</tspan><tspan x="1666.2" dy="16.3">效期延长之有关事宜约定如下：</tspan></text></g>
<g id="e3a"><line class="u" x1="1948.5" y1="2261.6" x2="2215.3" y2="2261.6"/><text class="t" x="1955.7" y="2236.2">1、在本续签协议有效期间内，双方的各项权<tspan x="1955.7" dy="16.3">利义务关系均适用原合同。</tspan></text></g>
<g id="e3b"><line class="u" x1="1948.5" y1="2367.2" x2="2215.3" y2="2367.2"/><text class="t" x="1955.7" y="2309.2">2、本续签协议有效期为_______年，即自___<tspan x="1955.7" dy="16.3">___年______月_______日起至______年_____</tspan><tspan x="1955.7" dy="16.3">_月_______日止，甲乙双方可于本协议到期</tspan><tspan x="1955.7" dy="16.3">之日前协商再次续签之有关事宜。</tspan></text></g>
<g id="e3c"><line class="u" x1="1948.5" y1="2488.7" x2="2215.3" y2="2488.7"/><text class="t" x="1955.7" y="2414.4">3、本协议只涉及对原合同有效期限的变更，<tspan x="1955.7" dy="16.3">原合同所涉及的.费用、服务内容及甲乙双方</tspan><tspan x="1955.7" dy="16.3">权利义务等其它合同内容均不发生变化。本协</tspan><tspan x="1955.7" dy="16.3">议一式贰份，双方各执壹份，各份具有同等效</tspan><tspan x="1955.7" dy="16.3">力。</tspan></text></g>
<g id="e3c1"><line class="u" x1="2238.7" y1="2453" x2="2505.5" y2="2453"/><text class="t" x="2245.9" y="2427.6">甲方（签章）：____________乙方（签字）<tspan x="2245.9" dy="16.3">：____________</tspan></text></g>
<g id="e3c2"><line class="u" x1="2238.7" y1="2524.9" x2="2505.5" y2="2524.9"/><text class="t" x="2245.9" y="2499.5">签订日期：__________签订日期：_______<tspan x="2245.9" dy="16.3">_____</tspan></text></g>

<g id="p3"><line class="u" x1="1442" y1="2871.8" x2="1647" y2="2871.8"/><text class="l1" x="1450" y="2857.8">续约租赁合同范本 第3篇</text></g>
<g id="f1"><line class="u" x1="1657.8" y1="2581.5" x2="1793.9" y2="2581.5"/><text class="t" x="1666.2" y="2572.4">甲方：(以下简称甲方)</text></g>
<g id="f2"><line class="u" x1="1657.8" y1="2637.6" x2="1793.9" y2="2637.6"/><text class="t" x="1666.2" y="2628.5">乙方：(以下简称乙方)</text></g>
<g id="f3"><line class="u" x1="1657.8" y1="2759" x2="1925.7" y2="2759"/><text class="t" x="1666.2" y="2684.7">一、原甲乙双方于20_年10月26日签订的门<tspan x="1666.2" dy="16.3">面房屋租赁合同中第八条，乙方需要优先租赁</tspan><tspan x="1666.2" dy="16.3">给乙方。现经双方协商，继续租赁给乙方经营</tspan><tspan x="1666.2" dy="16.3">两年。即从20_年11月26日至20_年11月15</tspan><tspan x="1666.2" dy="16.3">日止。</tspan></text></g>
<g id="f4"><line class="u" x1="1657.8" y1="2831" x2="1925.7" y2="2831"/><text class="t" x="1666.2" y="2805.6">二、全年租金伍万肆仟元整(￥元)，甲方除收<tspan x="1666.2" dy="16.3">取房租外，其它税费由乙方负责缴纳。</tspan></text></g>
<g id="f5"><line class="u" x1="1657.8" y1="2968.3" x2="1925.7" y2="2968.3"/><text class="t" x="1666.2" y="2877.7">三、租金支付方式：乙方必须提前预付半年的<tspan x="1666.2" dy="16.3">房租。20_年11月16日至20_年5月15日，</tspan><tspan x="1666.2" dy="16.3">乙方交付房租贰万柒仟元(￥元)给甲方，甲方</tspan><tspan x="1666.2" dy="16.3">出据收据;20_年5月16日至20_年11月15日</tspan><tspan x="1666.2" dy="16.3">乙方交付贰万柒仟元(￥元)给甲方，甲方出据</tspan><tspan x="1666.2" dy="16.3">收据，以此类推。</tspan></text></g>
<g id="f6"><line class="u" x1="1657.8" y1="3074.4" x2="1925.7" y2="3074.4"/><text class="t" x="1666.2" y="3016.4">四、原20_年10月26日签订的`"房屋租赁合<tspan x="1666.2" dy="16.3">同"条款中2条、3条、4条作废外，其余条款</tspan><tspan x="1666.2" dy="16.3">继续有效。希望双方共同遵守，按合同条款承</tspan><tspan x="1666.2" dy="16.3">担责任。</tspan></text></g>
<g id="f7"><line class="u" x1="1657.8" y1="3163.7" x2="1925.7" y2="3163.7"/><text class="t" x="1666.2" y="3122">五、此续签合同，一式两份，甲乙双方各持一<tspan x="1666.2" dy="16.3">份。甲乙双方签姓名(右手母指印)之日起有效</tspan><tspan x="1666.2" dy="16.3">。</tspan></text></g>
<g id="f7a"><line class="u" x1="1948.5" y1="3163.7" x2="2037.9" y2="3163.7"/><text class="t" x="1955.7" y="3154.6">甲方：乙方：</text></g>
<g id="f7a1"><line class="u" x1="2060.6" y1="3163.7" x2="2167.3" y2="3163.7"/><text class="t" x="2067.8" y="3154.6">20_年11月10日</text></g>

<g id="p5"><line class="u" x1="1442" y1="3526.4" x2="1647" y2="3526.4"/><text class="l1" x="1450" y="3512.4">续约租赁合同范本 第5篇</text></g>
<g id="g1"><line class="u" x1="1657.8" y1="3218.8" x2="1814.8" y2="3218.8"/><text class="t" x="1666.2" y="3209.7">甲方：  (以下简称甲方)</text></g>
<g id="g2"><line class="u" x1="1657.8" y1="3274.9" x2="1814.8" y2="3274.9"/><text class="t" x="1666.2" y="3265.8">乙方：  (以下简称乙方)</text></g>
<g id="g3"><line class="u" x1="1657.8" y1="3396.3" x2="1925.7" y2="3396.3"/><text class="t" x="1666.2" y="3322">一、原甲乙双方于20xx年10月26日签订的门<tspan x="1666.2" dy="16.3">面房屋租赁合同中第八条，乙方需要优先租赁</tspan><tspan x="1666.2" dy="16.3">给乙方。现经双方协商，继续租赁给乙方经营</tspan><tspan x="1666.2" dy="16.3">两年。即从20xx年11月26日至20xx年11月1</tspan><tspan x="1666.2" dy="16.3">5日止。</tspan></text></g>
<g id="g4"><line class="u" x1="1657.8" y1="3485.6" x2="1925.7" y2="3485.6"/><text class="t" x="1666.2" y="3443.9">二、全年租金伍万肆仟元整（￥54000。00<tspan x="1666.2" dy="16.3">元），甲方除收取房租外，其它税费由乙方负</tspan><tspan x="1666.2" dy="16.3">责缴纳。</tspan></text></g>
<g id="g5"><line class="u" x1="1657.8" y1="3639.2" x2="1925.7" y2="3639.2"/><text class="t" x="1666.2" y="3532.3">三、租金支付方式：乙方必须提前预付半年的<tspan x="1666.2" dy="16.3">.房租。20xx年11月16日至20xx年5月15日，</tspan><tspan x="1666.2" dy="16.3">乙方交付房租贰万柒仟元（￥27000。00元</tspan><tspan x="1666.2" dy="16.3">）给甲方，甲方出据收据；20xx年5月16日至</tspan><tspan x="1666.2" dy="16.3">20xx年11月15日乙方交付贰万柒仟元（￥27</tspan><tspan x="1666.2" dy="16.3">000。00元）给甲方，甲方出据收据，以此类</tspan><tspan x="1666.2" dy="16.3">推。</tspan></text></g>
<g id="g6"><line class="u" x1="1657.8" y1="3745.3" x2="1925.7" y2="3745.3"/><text class="t" x="1666.2" y="3687.3">四、原20xx年10月26日签订的`房屋租赁合同<tspan x="1666.2" dy="16.3">"条款中2条、3条、4条作废外，其余条款继</tspan><tspan x="1666.2" dy="16.3">续有效。希望双方共同遵守，按合同条款承担</tspan><tspan x="1666.2" dy="16.3">责任。</tspan></text></g>
<g id="g7"><line class="u" x1="1657.8" y1="3833.6" x2="1925.7" y2="3833.6"/><text class="t" x="1666.2" y="3791.9">五、此续签合同，一式两份，甲乙双方各持一<tspan x="1666.2" dy="16.3">份。甲乙双方签姓名（右手母指印）之日起有</tspan><tspan x="1666.2" dy="16.3">效。</tspan></text></g>
<g id="g7a"><line class="u" x1="1948.5" y1="3833.6" x2="2041.5" y2="3833.6"/><text class="t" x="1955.7" y="3824.5">甲方：  乙方：</text></g>
<g id="g7a1"><line class="u" x1="2064.2" y1="3833.6" x2="2168.5" y2="3833.6"/><text class="t" x="2071.4" y="3824.5">20xx年xx月xx日</text></g>

<g id="p7"><line class="u" x1="1442" y1="4575.7" x2="1647" y2="4575.7"/><text class="l1" x="1450" y="4561.7">续约租赁合同范本 第7篇</text></g>
<g id="h1"><line class="u" x1="1657.8" y1="3889.7" x2="1886.8" y2="3889.7"/><text class="t" x="1666.2" y="3880.6">出租方(以下简称甲方)：身份证号码：</text></g>
<g id="h2"><line class="u" x1="1657.8" y1="3945.8" x2="1886.8" y2="3945.8"/><text class="t" x="1666.2" y="3936.7">承租方(以下简称乙方)：身份证号码：</text></g>
<g id="h3"><line class="u" x1="1657.8" y1="4018.3" x2="1925.7" y2="4018.3"/><text class="t" x="1666.2" y="3992.9">甲、乙双方通过友好协商，就房屋租赁事宜达<tspan x="1666.2" dy="16.3">成协议如下：</tspan></text></g>
<g id="h3a"><line class="u" x1="1948.5" y1="4018.3" x2="2087.6" y2="4018.3"/><text class="t" x="1955.7" y="4009.2">一、租赁地点及设施：</text></g>
<g id="h4"><line class="u" x1="1657.8" y1="4735.7" x2="1733.9" y2="4735.7"/><text class="t" x="1666.2" y="4726.6">房屋地址：</text></g>
<g id="h4a"><line class="u" x1="1758.5" y1="4266.7" x2="1909.6" y2="4266.7"/><text class="t" x="1765.7" y="4257.6">二、租用期限及其约定：</text></g>
<g id="h4a1"><line class="u" x1="1933.5" y1="4091.2" x2="2200.3" y2="4091.2"/><text class="t" x="1940.7" y="4065.8">1、租用期限：甲方同意乙方租用 年;自 年 月<tspan x="1940.7" dy="16.3"> 日起至 年 月 日;</tspan></text></g>
<g id="h4a2"><line class="u" x1="1933.5" y1="4147.3" x2="2112.8" y2="4147.3"/><text class="t" x="1940.7" y="4138.2">2、房屋租金：每年 元人民币;</text></g>
<g id="h4a3"><line class="u" x1="1933.5" y1="4203.5" x2="2106.2" y2="4203.5"/><text class="t" x="1940.7" y="4194.4">3、付款方式：一次性支付。</text></g>
<g id="h4a4"><line class="u" x1="1933.5" y1="4292.2" x2="2200.3" y2="4292.2"/><text class="t" x="1940.7" y="4250.5">4、租赁期内的水、电、煤气、电话、有线电<tspan x="1940.7" dy="16.3">视、卫生治安费由乙方支付，房屋修缮等费用</tspan><tspan x="1940.7" dy="16.3">由乙方支付;</tspan></text></g>
<g id="h4a5"><line class="u" x1="1933.5" y1="4441.2" x2="2200.3" y2="4441.2"/><text class="t" x="1940.7" y="4399.5">5、租用期内，乙方有下列情形之一的甲方可<tspan x="1940.7" dy="16.3">以终止合同，收回房屋使用权、乙方需担全部</tspan><tspan x="1940.7" dy="16.3">责任，并赔偿甲方损失。</tspan></text></g>
<g id="h4a5a"><line class="u" x1="2224.3" y1="4349.4" x2="2455" y2="4349.4"/><text class="t" x="2231.5" y="4340.3">( )乙方擅自将房屋转租、转让或转借的;</text></g>
<g id="h4a5b"><line class="u" x1="2224.3" y1="4420.8" x2="2490.5" y2="4420.8"/><text class="t" x="2231.5" y="4395.4">(2)乙方利用承租房屋进行非法活动损害公共<tspan x="2231.5" dy="16.3">利益的;</tspan></text></g>
<g id="h4a5c"><line class="u" x1="2224.3" y1="4477" x2="2419" y2="4477"/><text class="t" x="2231.5" y="4467.9">(3)乙方无故拖欠房屋租金达 5天;</text></g>
<g id="h4a5d"><line class="u" x1="2224.3" y1="4533.3" x2="2417.3" y2="4533.3"/><text class="t" x="2231.5" y="4524.2">(4)连续三个月不付所有费用的。</text></g>
<g id="h4b"><line class="u" x1="1758.5" y1="4869.1" x2="1897.6" y2="4869.1"/><text class="t" x="1765.7" y="4860">三、双方责任及义务：</text></g>
<g id="h4b1"><line class="u" x1="1921.5" y1="4622.3" x2="2187.7" y2="4622.3"/><text class="t" x="1928.7" y="4580.6">1、乙方须按时交纳水、电、煤、电话等费用<tspan x="1928.7" dy="16.3">，并务必将以上费用帐单交给甲方，甲方须监</tspan><tspan x="1928.7" dy="16.3">督检查以上费用;</tspan></text></g>
<g id="h4b2"><line class="u" x1="1921.5" y1="4711.2" x2="2187.7" y2="4711.2"/><text class="t" x="1928.7" y="4669.5">2、在租用期内，甲方必须确保乙方的正常居<tspan x="1928.7" dy="16.3">住，不得在租赁期内房租加价(如遇搬迁，拆</tspan><tspan x="1928.7" dy="16.3">迁甲方需退回剩余租金)。</tspan></text></g>
<g id="h4b3"><line class="u" x1="1921.5" y1="4800.6" x2="2187.7" y2="4800.6"/><text class="t" x="1928.7" y="4758.9">3、租用期满后，乙方如需继续使用，应提前<tspan x="1928.7" dy="16.3">一个月提出，甲方可根据实际情况，在同等条</tspan><tspan x="1928.7" dy="16.3">件下给予优先;</tspan></text></g>
<g id="h4b4"><line class="u" x1="1921.5" y1="4889.5" x2="2187.7" y2="4889.5"/><text class="t" x="1928.7" y="4847.8">4、在租赁期内，甲、乙双方如有一方有特殊<tspan x="1928.7" dy="16.3">情况需解除协议的，必须提前一个月通知对方</tspan><tspan x="1928.7" dy="16.3">，协商后解除本协议;</tspan></text></g>
<g id="h4b5"><line class="u" x1="1921.5" y1="5010.3" x2="2187.7" y2="5010.3"/><text class="t" x="1928.7" y="4936">5、乙方入住该物业应保持周围环境整洁做好<tspan x="1928.7" dy="16.3">防火防盗工作，如发生事故乙方应负全部责任</tspan><tspan x="1928.7" dy="16.3">;尤其注意居住安全，包括取暖、用电等，甲</tspan><tspan x="1928.7" dy="16.3">方在此已提示乙方，乙方承诺如发生安全等事</tspan><tspan x="1928.7" dy="16.3">故自行负责，与甲方无关。</tspan></text></g>
<g id="h4b6"><line class="u" x1="1921.5" y1="5116" x2="2187.7" y2="5116"/><text class="t" x="1928.7" y="5058">6、乙方不得擅自改变室内结构，并爱惜使用<tspan x="1928.7" dy="16.3">室内设施，若人为损坏的将给予甲方相应赔偿</tspan><tspan x="1928.7" dy="16.3">;如发生自然损坏，应及时通知甲方，并配合</tspan><tspan x="1928.7" dy="16.3">甲方及时给予修复。</tspan></text></g>
<g id="h4c"><line class="u" x1="1758.5" y1="5204.9" x2="2025.3" y2="5204.9"/><text class="t" x="1765.7" y="5163.2">四、其它未尽事宜，由甲乙双方协商解决，协<tspan x="1765.7" dy="16.3">商不成按有关现行法规办理提交怀柔区人民法</tspan><tspan x="1765.7" dy="16.3">院解决。</tspan></text></g>
<g id="h4c1"><line class="u" x1="2049.2" y1="5204.9" x2="2314.2" y2="5204.9"/><text class="t" x="2055.2" y="5179.5">本协议一式两份，甲、乙双方各执一份，签字<tspan x="2055.2" dy="16.3">后即行生效。</tspan></text></g>
<g id="h5"><line class="u" x1="1657.8" y1="5261.4" x2="1772.9" y2="5261.4"/><text class="t" x="1666.2" y="5252.3">出租方：承租方：</text></g>
</g>
</svg>
